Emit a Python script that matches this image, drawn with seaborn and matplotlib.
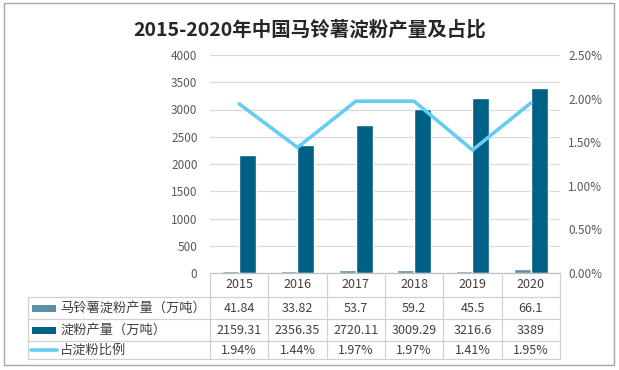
import numpy as np
import pandas as pd
import matplotlib
matplotlib.use("Agg")
import matplotlib.pyplot as plt
from matplotlib.patches import Rectangle
from matplotlib.lines import Line2D
from matplotlib.ticker import FuncFormatter, MultipleLocator
import seaborn as sns

years = ["2015", "2016", "2017", "2018", "2019", "2020"]
potato_starch = [41.84, 33.82, 53.7, 59.2, 45.5, 66.1]
starch_total = [2159.31, 2356.35, 2720.11, 3009.29, 3216.6, 3389]
share_pct = [1.94, 1.44, 1.97, 1.97, 1.41, 1.95]
potato_labels = ["41.84", "33.82", "53.7", "59.2", "45.5", "66.1"]
total_labels = ["2159.31", "2356.35", "2720.11", "3009.29", "3216.6", "3389"]
share_labels = ["1.94%", "1.44%", "1.97%", "1.97%", "1.41%", "1.95%"]
series_names = ["马铃薯淀粉产量（万吨）", "淀粉产量（万吨）", "占淀粉比例"]
title = "2015-2020年中国马铃薯淀粉产量及占比"

c_small = "#5A8FA6"
c_big = "#006186"
c_line = "#66CCF2"
grid_c = "#D9D9D9"
text_c = "#404040"
tick_c = "#595959"

sns.set_theme(style="white")
plt.rcParams["font.family"] = ["Noto Sans CJK SC", "DejaVu Sans"]

W, H = 619, 370
fig = plt.figure(figsize=(W / 100, H / 100), dpi=100)
fig.patch.set_facecolor("white")

x0, x1, ytop, ybot = 210, 560, 55, 273
ax = fig.add_axes([x0 / W, 1 - ybot / H, (x1 - x0) / W, (ybot - ytop) / H])

df = pd.DataFrame({
    "year": years * 2,
    "value": potato_starch + starch_total,
    "series": [series_names[0]] * len(years) + [series_names[1]] * len(years),
})
sns.barplot(data=df, x="year", y="value", hue="series", order=years,
            hue_order=series_names[:2], palette=[c_small, c_big],
            width=0.58, saturation=1, legend=False, ax=ax, zorder=2)
ax.set_xlim(-0.5, len(years) - 0.5)
ax.set_ylim(0, 4000)
ax.yaxis.set_major_locator(MultipleLocator(500))
ax.set_axisbelow(True)
ax.grid(axis="y", color=grid_c, lw=0.9)
ax.grid(axis="x", visible=False)
for s in ["top", "right", "left"]:
    ax.spines[s].set_visible(False)
ax.spines["bottom"].set_color("#BFBFBF")
ax.spines["bottom"].set_linewidth(0.9)
ax.set_xlabel("")
ax.set_ylabel("")
ax.set_xticklabels([])
ax.tick_params(axis="x", length=0)
ax.tick_params(axis="y", length=0, labelsize=8.5, labelcolor=tick_c, pad=9)
ax.set_facecolor("none")

ax2 = ax.twinx()
sns.lineplot(x=np.arange(len(years)), y=np.array(share_pct) / 100, color=c_line,
             lw=2.6, ax=ax2, zorder=3)
ax2.set_ylim(0, 0.025)
ax2.yaxis.set_major_locator(MultipleLocator(0.005))
ax2.yaxis.set_major_formatter(FuncFormatter(lambda v, p: f"{v*100:.2f}%"))
ax2.tick_params(axis="y", length=0, labelsize=8.5, labelcolor=tick_c, pad=6)
for s in ax2.spines.values():
    s.set_visible(False)
ax2.grid(False)
ax2.set_ylabel("")

# overlay for frame, title and data table (pixel coordinates)
ov = fig.add_axes([0, 0, 1, 1], zorder=5)
ov.set_xlim(0, W)
ov.set_ylim(H, 0)
ov.axis("off")
ov.patch.set_alpha(0)

ov.add_patch(Rectangle((4, 3), 610, 362, fill=False, ec="#A6A6A6", lw=1.0))
ov.text(310, 30, title, ha="center", va="center", fontsize=14,
        fontweight="bold", color="#262626")

n = len(years)
cw = (x1 - x0) / n
tl = 28
rows_y = [273, 297, 319, 341, 359]
lc = "#D0D0D0"
for yy in rows_y[1:]:
    ov.add_line(Line2D([tl, x1], [yy, yy], color=lc, lw=0.9))
ov.add_line(Line2D([tl, tl], [rows_y[1], rows_y[-1]], color=lc, lw=0.9))
for i in range(n + 1):
    xx = x0 + i * cw
    ov.add_line(Line2D([xx, xx], [rows_y[0], rows_y[-1]], color=lc, lw=0.9))

fs = 9
for i, yr in enumerate(years):
    cx = x0 + (i + 0.5) * cw
    ov.text(cx, (rows_y[0] + rows_y[1]) / 2, yr, ha="center", va="center",
            fontsize=fs, color=text_c)
    for r, labs in enumerate([potato_labels, total_labels, share_labels]):
        ov.text(cx, (rows_y[r + 1] + rows_y[r + 2]) / 2, labs[i], ha="center",
                va="center", fontsize=fs, color=text_c)

for r, name in enumerate(series_names):
    cy = (rows_y[r + 1] + rows_y[r + 2]) / 2
    if r < 2:
        ov.add_patch(Rectangle((32, cy - 3.5), 24, 7, color=[c_small, c_big][r], lw=0))
    else:
        ov.add_line(Line2D([31, 57], [cy, cy], color=c_line, lw=2.6))
    ov.text(60, cy, name, ha="left", va="center", fontsize=fs + 0.5, color=text_c)

fig.savefig("out.png", dpi=100)
